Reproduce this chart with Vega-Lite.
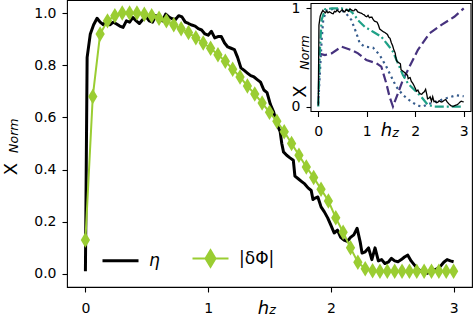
{
  "$schema": "https://vega.github.io/schema/vega-lite/v6.json",
  "width": 405,
  "height": 287,
  "autosize": {"type": "none"},
  "padding": {"left": 67, "top": 0, "right": 1, "bottom": 32},
  "background": "white",
  "config": {
    "view": {"stroke": "black", "strokeWidth": 1.1},
    "font": "DejaVu Sans",
    "axis": {"labelFont": "DejaVu Sans", "labelFontSize": 14, "labelColor": "black", "tickColor": "black", "tickSize": 5, "tickWidth": 1.1, "domain": false, "grid": false, "titleFont": "DejaVu Sans", "titleFontSize": 18, "titleFontWeight": "normal", "titleColor": "black"},
    "axisX": {"labelBaseline": "alphabetic", "labelPadding": 20}
  },
  "datasets": {
    "main": [
      {"s":"η","h":0,"v":0.01},{"s":"η","h":0.014,"v":0.83},{"s":"η","h":0.04,"v":0.92},{"s":"η","h":0.067,"v":0.955},{"s":"η","h":0.095,"v":0.98},{"s":"η","h":0.12,"v":0.965},{"s":"η","h":0.147,"v":0.955},{"s":"η","h":0.174,"v":0.973},{"s":"η","h":0.2,"v":0.955},{"s":"η","h":0.227,"v":0.965},{"s":"η","h":0.254,"v":0.958},{"s":"η","h":0.28,"v":0.95},{"s":"η","h":0.307,"v":0.945},{"s":"η","h":0.334,"v":0.97},{"s":"η","h":0.36,"v":0.965},{"s":"η","h":0.387,"v":0.983},{"s":"η","h":0.414,"v":0.97},{"s":"η","h":0.44,"v":0.96},{"s":"η","h":0.467,"v":0.975},{"s":"η","h":0.494,"v":0.986},{"s":"η","h":0.52,"v":0.97},{"s":"η","h":0.547,"v":0.965},{"s":"η","h":0.574,"v":0.99},{"s":"η","h":0.6,"v":0.98},{"s":"η","h":0.627,"v":0.97},{"s":"η","h":0.654,"v":0.996},{"s":"η","h":0.68,"v":0.985},{"s":"η","h":0.707,"v":0.978},{"s":"η","h":0.734,"v":0.975},{"s":"η","h":0.76,"v":0.99},{"s":"η","h":0.787,"v":0.985},{"s":"η","h":0.814,"v":0.965},{"s":"η","h":0.84,"v":0.96},{"s":"η","h":0.867,"v":0.954},{"s":"η","h":0.894,"v":0.95},{"s":"η","h":0.92,"v":0.94},{"s":"η","h":0.947,"v":0.935},{"s":"η","h":0.974,"v":0.92},{"s":"η","h":1.0,"v":0.915},{"s":"η","h":1.027,"v":0.93},{"s":"η","h":1.054,"v":0.905},{"s":"η","h":1.08,"v":0.91},{"s":"η","h":1.107,"v":0.91},{"s":"η","h":1.134,"v":0.885},{"s":"η","h":1.16,"v":0.87},{"s":"η","h":1.187,"v":0.865},{"s":"η","h":1.214,"v":0.86},{"s":"η","h":1.24,"v":0.83},{"s":"η","h":1.267,"v":0.79},{"s":"η","h":1.294,"v":0.78},{"s":"η","h":1.32,"v":0.77},{"s":"η","h":1.347,"v":0.76},{"s":"η","h":1.374,"v":0.755},{"s":"η","h":1.4,"v":0.745},{"s":"η","h":1.427,"v":0.735},{"s":"η","h":1.454,"v":0.705},{"s":"η","h":1.48,"v":0.695},{"s":"η","h":1.507,"v":0.65},{"s":"η","h":1.534,"v":0.62},{"s":"η","h":1.56,"v":0.575},{"s":"η","h":1.587,"v":0.545},{"s":"η","h":1.6,"v":0.5},{"s":"η","h":1.614,"v":0.468},{"s":"η","h":1.64,"v":0.455},{"s":"η","h":1.667,"v":0.445},{"s":"η","h":1.694,"v":0.436},{"s":"η","h":1.707,"v":0.375},{"s":"η","h":1.734,"v":0.365},{"s":"η","h":1.76,"v":0.355},{"s":"η","h":1.787,"v":0.345},{"s":"η","h":1.814,"v":0.33},{"s":"η","h":1.84,"v":0.32},{"s":"η","h":1.854,"v":0.285},{"s":"η","h":1.867,"v":0.29},{"s":"η","h":1.894,"v":0.295},{"s":"η","h":1.92,"v":0.257},{"s":"η","h":1.947,"v":0.238},{"s":"η","h":1.974,"v":0.215},{"s":"η","h":2.0,"v":0.187},{"s":"η","h":2.027,"v":0.157},{"s":"η","h":2.054,"v":0.168},{"s":"η","h":2.08,"v":0.14},{"s":"η","h":2.107,"v":0.13},{"s":"η","h":2.134,"v":0.125},{"s":"η","h":2.16,"v":0.14},{"s":"η","h":2.187,"v":0.15},{"s":"η","h":2.214,"v":0.175},{"s":"η","h":2.24,"v":0.12},{"s":"η","h":2.254,"v":0.08},{"s":"η","h":2.28,"v":0.085},{"s":"η","h":2.307,"v":0.1},{"s":"η","h":2.334,"v":0.055},{"s":"η","h":2.36,"v":0.1},{"s":"η","h":2.387,"v":0.05},{"s":"η","h":2.414,"v":0.055},{"s":"η","h":2.44,"v":0.04},{"s":"η","h":2.467,"v":0.045},{"s":"η","h":2.494,"v":0.06},{"s":"η","h":2.52,"v":0.05},{"s":"η","h":2.547,"v":0.047},{"s":"η","h":2.574,"v":0.055},{"s":"η","h":2.6,"v":0.065},{"s":"η","h":2.627,"v":0.072},{"s":"η","h":2.654,"v":0.05},{"s":"η","h":2.68,"v":0.035},{"s":"η","h":2.707,"v":0.02},{"s":"η","h":2.734,"v":0.01},{"s":"η","h":2.76,"v":0.005},{"s":"η","h":2.787,"v":0.003},{"s":"η","h":2.814,"v":0.01},{"s":"η","h":2.84,"v":0.015},{"s":"η","h":2.867,"v":0.02},{"s":"η","h":2.894,"v":0.03},{"s":"η","h":2.92,"v":0.045},{"s":"η","h":2.947,"v":0.055},{"s":"η","h":2.974,"v":0.05},{"s":"η","h":3.0,"v":0.047},
      {"s":"|δΦ|","h":0,"v":0.13},{"s":"|δΦ|","h":0.06,"v":0.68},{"s":"|δΦ|","h":0.12,"v":0.92},{"s":"|δΦ|","h":0.18,"v":0.97},{"s":"|δΦ|","h":0.24,"v":0.99},{"s":"|δΦ|","h":0.3,"v":1.0},{"s":"|δΦ|","h":0.36,"v":1.0},{"s":"|δΦ|","h":0.42,"v":1.0},{"s":"|δΦ|","h":0.48,"v":0.995},{"s":"|δΦ|","h":0.54,"v":0.99},{"s":"|δΦ|","h":0.6,"v":0.98},{"s":"|δΦ|","h":0.66,"v":0.97},{"s":"|δΦ|","h":0.72,"v":0.955},{"s":"|δΦ|","h":0.78,"v":0.94},{"s":"|δΦ|","h":0.84,"v":0.925},{"s":"|δΦ|","h":0.9,"v":0.905},{"s":"|δΦ|","h":0.96,"v":0.885},{"s":"|δΦ|","h":1.02,"v":0.865},{"s":"|δΦ|","h":1.08,"v":0.84},{"s":"|δΦ|","h":1.14,"v":0.815},{"s":"|δΦ|","h":1.2,"v":0.785},{"s":"|δΦ|","h":1.26,"v":0.755},{"s":"|δΦ|","h":1.32,"v":0.72},{"s":"|δΦ|","h":1.38,"v":0.69},{"s":"|δΦ|","h":1.44,"v":0.655},{"s":"|δΦ|","h":1.5,"v":0.62},{"s":"|δΦ|","h":1.56,"v":0.585},{"s":"|δΦ|","h":1.62,"v":0.545},{"s":"|δΦ|","h":1.68,"v":0.5},{"s":"|δΦ|","h":1.74,"v":0.455},{"s":"|δΦ|","h":1.8,"v":0.41},{"s":"|δΦ|","h":1.86,"v":0.37},{"s":"|δΦ|","h":1.92,"v":0.325},{"s":"|δΦ|","h":1.98,"v":0.28},{"s":"|δΦ|","h":2.04,"v":0.215},{"s":"|δΦ|","h":2.1,"v":0.16},{"s":"|δΦ|","h":2.16,"v":0.1},{"s":"|δΦ|","h":2.22,"v":0.045},{"s":"|δΦ|","h":2.28,"v":0.02},{"s":"|δΦ|","h":2.34,"v":0.012},{"s":"|δΦ|","h":2.4,"v":0.01},{"s":"|δΦ|","h":2.46,"v":0.01},{"s":"|δΦ|","h":2.52,"v":0.01},{"s":"|δΦ|","h":2.58,"v":0.01},{"s":"|δΦ|","h":2.64,"v":0.01},{"s":"|δΦ|","h":2.7,"v":0.01},{"s":"|δΦ|","h":2.76,"v":0.01},{"s":"|δΦ|","h":2.82,"v":0.01},{"s":"|δΦ|","h":2.88,"v":0.01},{"s":"|δΦ|","h":2.94,"v":0.01},{"s":"|δΦ|","h":3.0,"v":0.01}
    ],
    "inset": [
      {"q":"a","h":0,"v":0.542},{"q":"a","h":0.137,"v":0.525},{"q":"a","h":0.274,"v":0.542},{"q":"a","h":0.479,"v":0.61},{"q":"a","h":0.684,"v":0.576},{"q":"a","h":0.82,"v":0.542},{"q":"a","h":0.993,"v":0.474},{"q":"a","h":1.198,"v":0.441},{"q":"a","h":1.3,"v":0.407},{"q":"a","h":1.403,"v":0.237},{"q":"a","h":1.47,"v":0.101},{"q":"a","h":1.54,"v":0.0},{"q":"a","h":1.643,"v":0.135},{"q":"a","h":1.745,"v":0.271},{"q":"a","h":1.882,"v":0.407},{"q":"a","h":2.053,"v":0.576},{"q":"a","h":2.293,"v":0.746},{"q":"a","h":2.533,"v":0.83},{"q":"a","h":2.806,"v":0.915},{"q":"a","h":3.0,"v":1.0},
      {"q":"b","h":0,"v":0.03},{"q":"b","h":0.07,"v":0.68},{"q":"b","h":0.103,"v":0.89},{"q":"b","h":0.171,"v":0.98},{"q":"b","h":0.342,"v":1.0},{"q":"b","h":0.547,"v":0.965},{"q":"b","h":0.684,"v":0.881},{"q":"b","h":0.787,"v":0.746},{"q":"b","h":0.856,"v":0.644},{"q":"b","h":0.958,"v":0.61},{"q":"b","h":1.13,"v":0.6},{"q":"b","h":1.267,"v":0.525},{"q":"b","h":1.403,"v":0.407},{"q":"b","h":1.506,"v":0.305},{"q":"b","h":1.608,"v":0.203},{"q":"b","h":1.745,"v":0.118},{"q":"b","h":1.916,"v":0.05},{"q":"b","h":2.05,"v":0.01},{"q":"b","h":2.15,"v":0.0},{"q":"b","h":2.3,"v":0.03},{"q":"b","h":2.464,"v":0.055},{"q":"b","h":2.67,"v":0.09},{"q":"b","h":2.85,"v":0.115},{"q":"b","h":3.0,"v":0.105},
      {"q":"c","h":0,"v":0},{"q":"c","h":0.034,"v":0.576},{"q":"c","h":0.068,"v":0.88},{"q":"c","h":0.137,"v":0.99},{"q":"c","h":0.274,"v":1.0},{"q":"c","h":0.479,"v":1.0},{"q":"c","h":0.6,"v":0.985},{"q":"c","h":0.684,"v":0.965},{"q":"c","h":0.75,"v":0.93},{"q":"c","h":0.82,"v":0.88},{"q":"c","h":0.958,"v":0.813},{"q":"c","h":1.13,"v":0.762},{"q":"c","h":1.3,"v":0.712},{"q":"c","h":1.437,"v":0.627},{"q":"c","h":1.54,"v":0.559},{"q":"c","h":1.643,"v":0.441},{"q":"c","h":1.745,"v":0.322},{"q":"c","h":1.848,"v":0.237},{"q":"c","h":1.985,"v":0.169},{"q":"c","h":2.122,"v":0.101},{"q":"c","h":2.259,"v":0.017},{"q":"c","h":2.396,"v":0.0},{"q":"c","h":3.0,"v":0.0}
    ]
  },
  "layer": [
    {
      "layer": [
        {
          "data": {"name": "main"},
          "transform": [{"filter": "datum.s === 'η'"}],
          "mark": {"type": "line", "strokeWidth": 3, "strokeJoin": "round"},
          "encoding": {
            "x": {"field": "h", "type": "quantitative", "scale": {"domain": [-0.15, 3.15], "nice": false, "zero": false},
                  "axis": {"values": [0, 1, 2, 3], "format": "d", "title": "h", "titleFontStyle": "italic", "titleX": 196, "titleY": 26, "titleAlign": "center", "titleBaseline": "alphabetic", "titleAngle": 0, "labelBaseline": "alphabetic", "labelPadding": 20}},
            "y": {"field": "v", "type": "quantitative", "scale": {"domain": [-0.05, 1.05], "nice": false, "zero": false},
                  "axis": {"values": [0, 0.2, 0.4, 0.6, 0.8, 1.0], "format": ".1f", "title": "X", "titleX": -51, "titleY": 168.5, "titleAngle": 270, "titleAlign": "center", "titleBaseline": "alphabetic", "labelPadding": 6}},
            "color": {"field": "s", "type": "nominal", "scale": {"domain": ["η", "|δΦ|"], "range": ["black", "#9acd32"]},
                      "legend": {"orient": "none", "legendX": 45, "legendY": 250, "direction": "horizontal", "title": null, "padding": 0,
                                 "symbolSize": 1296, "symbolType": "M-1,0H1", "labelFont": "DejaVu Sans", "labelFontSize": 17, "labelColor": "black", "labelOffset": 20, "columnPadding": 28,
                                 "encode": {
                                   "symbols": {"update": {
                                     "shape": {"signal": "datum.value === 'η' ? 'M-1,0H1' : 'M-1,0H1M0,-0.45L0.27,0L0,0.45L-0.27,0Z'"},
                                     "fill": {"signal": "datum.value === 'η' ? 'black' : '#9acd32'"},
                                     "stroke": {"signal": "datum.value === 'η' ? 'black' : '#9acd32'"},
                                     "strokeWidth": {"signal": "datum.value === 'η' ? 3 : 2.2"},
                                     "opacity": {"value": 1},
                                     "fillOpacity": {"value": 1},
                                     "strokeOpacity": {"value": 1}
                                   }},
                                   "labels": {"update": {"fontStyle": {"signal": "datum.value === 'η' ? 'italic' : 'normal'"}}}
                                 }}}
          }
        },
        {
          "data": {"name": "main"},
          "transform": [{"filter": "datum.s !== 'η'"}],
          "mark": {"type": "line", "strokeWidth": 2, "strokeJoin": "round"},
          "encoding": {
            "x": {"field": "h", "type": "quantitative", "scale": {"domain": [-0.15, 3.15], "nice": false, "zero": false}},
            "y": {"field": "v", "type": "quantitative", "scale": {"domain": [-0.05, 1.05], "nice": false, "zero": false}},
            "color": {"field": "s", "type": "nominal", "scale": {"domain": ["η", "|δΦ|"], "range": ["black", "#9acd32"]}}
          }
        },
        {
          "data": {"name": "main"},
          "transform": [{"filter": "datum.s !== 'η'"}],
          "mark": {"type": "point", "shape": "M0,-1L0.6,0L0,1L-0.6,0Z", "filled": true, "size": 240, "color": "#9acd32", "opacity": 1},
          "encoding": {
            "x": {"field": "h", "type": "quantitative", "scale": {"domain": [-0.15, 3.15], "nice": false, "zero": false}},
            "y": {"field": "v", "type": "quantitative", "scale": {"domain": [-0.05, 1.05], "nice": false, "zero": false}}
          }
        },
        {
          "data": {"values": [{"label": "Norm"}]},
          "mark": {"type": "text", "angle": 270, "font": "DejaVu Sans", "fontSize": 12.6, "fontStyle": "italic", "align": "center", "baseline": "alphabetic", "color": "black"},
          "encoding": {
            "text": {"field": "label"},
            "x": {"datum": -0.548, "type": "quantitative", "scale": {"domain": [-0.15, 3.15], "nice": false, "zero": false}},
            "y": {"datum": 0.53, "type": "quantitative", "scale": {"domain": [-0.05, 1.05], "nice": false, "zero": false}}
          }
        },
        {
          "data": {"values": [{"label": "z"}]},
          "mark": {"type": "text", "font": "DejaVu Sans", "fontSize": 12.6, "fontStyle": "italic", "align": "center", "baseline": "alphabetic", "color": "black"},
          "encoding": {
            "text": {"field": "label"},
            "x": {"datum": 1.525, "type": "quantitative", "scale": {"domain": [-0.15, 3.15], "nice": false, "zero": false}},
            "y": {"datum": -0.155, "type": "quantitative", "scale": {"domain": [-0.05, 1.05], "nice": false, "zero": false}}
          }
        }
      ]
    },
    {
      "layer": [
        {
          "data": {"values": [{}]},
          "mark": {"type": "rect", "fill": "white", "stroke": "black", "strokeWidth": 1.1},
          "encoding": {
            "x": {"datum": -0.15, "type": "quantitative", "scale": {"domain": [-0.15, 3.15], "range": [244, 404], "nice": false, "zero": false},
                  "axis": {"orient": "bottom", "offset": -175.5, "values": [0, 1, 2, 3], "format": "d", "title": "h", "titleFontStyle": "italic", "titleX": 319, "titleY": 23.5, "titleAlign": "center", "titleBaseline": "alphabetic", "titleAngle": 0, "labelBaseline": "alphabetic", "labelPadding": 18.5}},
            "x2": {"datum": 3.15},
            "y": {"datum": -0.05, "type": "quantitative", "scale": {"domain": [-0.05, 1.05], "range": [111.5, 3.5], "nice": false, "zero": false},
                  "axis": {"orient": "left", "offset": -244, "values": [0, 1], "format": "d", "title": "X", "titleX": -6, "titleY": 91, "titleAngle": 270, "titleAlign": "center", "titleBaseline": "alphabetic", "labelPadding": 6}},
            "y2": {"datum": 1.05}
          }
        },
        {
          "data": {"name": "inset"},
          "transform": [{"filter": "datum.q === 'a'"}],
          "mark": {"type": "line", "strokeWidth": 2.2, "strokeDash": [9, 4], "color": "#46327e"},
          "encoding": {
            "x": {"field": "h", "type": "quantitative", "scale": {"domain": [-0.15, 3.15], "range": [244, 404], "nice": false, "zero": false}},
            "y": {"field": "v", "type": "quantitative", "scale": {"domain": [-0.05, 1.05], "range": [111.5, 3.5], "nice": false, "zero": false}}
          }
        },
        {
          "data": {"name": "inset"},
          "transform": [{"filter": "datum.q === 'b'"}],
          "mark": {"type": "line", "strokeWidth": 2.2, "strokeDash": [2.2, 3.6], "color": "#365c8d"},
          "encoding": {
            "x": {"field": "h", "type": "quantitative", "scale": {"domain": [-0.15, 3.15], "range": [244, 404], "nice": false, "zero": false}},
            "y": {"field": "v", "type": "quantitative", "scale": {"domain": [-0.05, 1.05], "range": [111.5, 3.5], "nice": false, "zero": false}}
          }
        },
        {
          "data": {"name": "inset"},
          "transform": [{"filter": "datum.q === 'c'"}],
          "mark": {"type": "line", "strokeWidth": 2.2, "strokeDash": [9, 3, 2, 3], "color": "#1fa187"},
          "encoding": {
            "x": {"field": "h", "type": "quantitative", "scale": {"domain": [-0.15, 3.15], "range": [244, 404], "nice": false, "zero": false}},
            "y": {"field": "v", "type": "quantitative", "scale": {"domain": [-0.05, 1.05], "range": [111.5, 3.5], "nice": false, "zero": false}}
          }
        },
        {
          "data": {"name": "main"},
          "transform": [{"filter": "datum.s === 'η'"}],
          "mark": {"type": "line", "strokeWidth": 1.3, "color": "black"},
          "encoding": {
            "x": {"field": "h", "type": "quantitative", "scale": {"domain": [-0.15, 3.15], "range": [244, 404], "nice": false, "zero": false}},
            "y": {"field": "v", "type": "quantitative", "scale": {"domain": [-0.05, 1.05], "range": [111.5, 3.5], "nice": false, "zero": false}}
          }
        },
        {
          "data": {"values": [{"label": "Norm"}]},
          "mark": {"type": "text", "angle": 270, "font": "DejaVu Sans", "fontSize": 12.6, "fontStyle": "italic", "align": "center", "baseline": "alphabetic", "color": "black"},
          "encoding": {
            "text": {"field": "label"},
            "x": {"datum": -0.19, "type": "quantitative", "scale": {"domain": [-0.15, 3.15], "range": [244, 404], "nice": false, "zero": false}},
            "y": {"datum": 0.551, "type": "quantitative", "scale": {"domain": [-0.05, 1.05], "range": [111.5, 3.5], "nice": false, "zero": false}}
          }
        },
        {
          "data": {"values": [{"label": "z"}]},
          "mark": {"type": "text", "font": "DejaVu Sans", "fontSize": 12.6, "fontStyle": "italic", "align": "center", "baseline": "alphabetic", "color": "black"},
          "encoding": {
            "text": {"field": "label"},
            "x": {"datum": 1.595, "type": "quantitative", "scale": {"domain": [-0.15, 3.15], "range": [244, 404], "nice": false, "zero": false}},
            "y": {"datum": -0.307, "type": "quantitative", "scale": {"domain": [-0.05, 1.05], "range": [111.5, 3.5], "nice": false, "zero": false}}
          }
        }
      ]
    }
  ],
  "resolve": {"scale": {"x": "independent", "y": "independent", "color": "independent"}}
}
